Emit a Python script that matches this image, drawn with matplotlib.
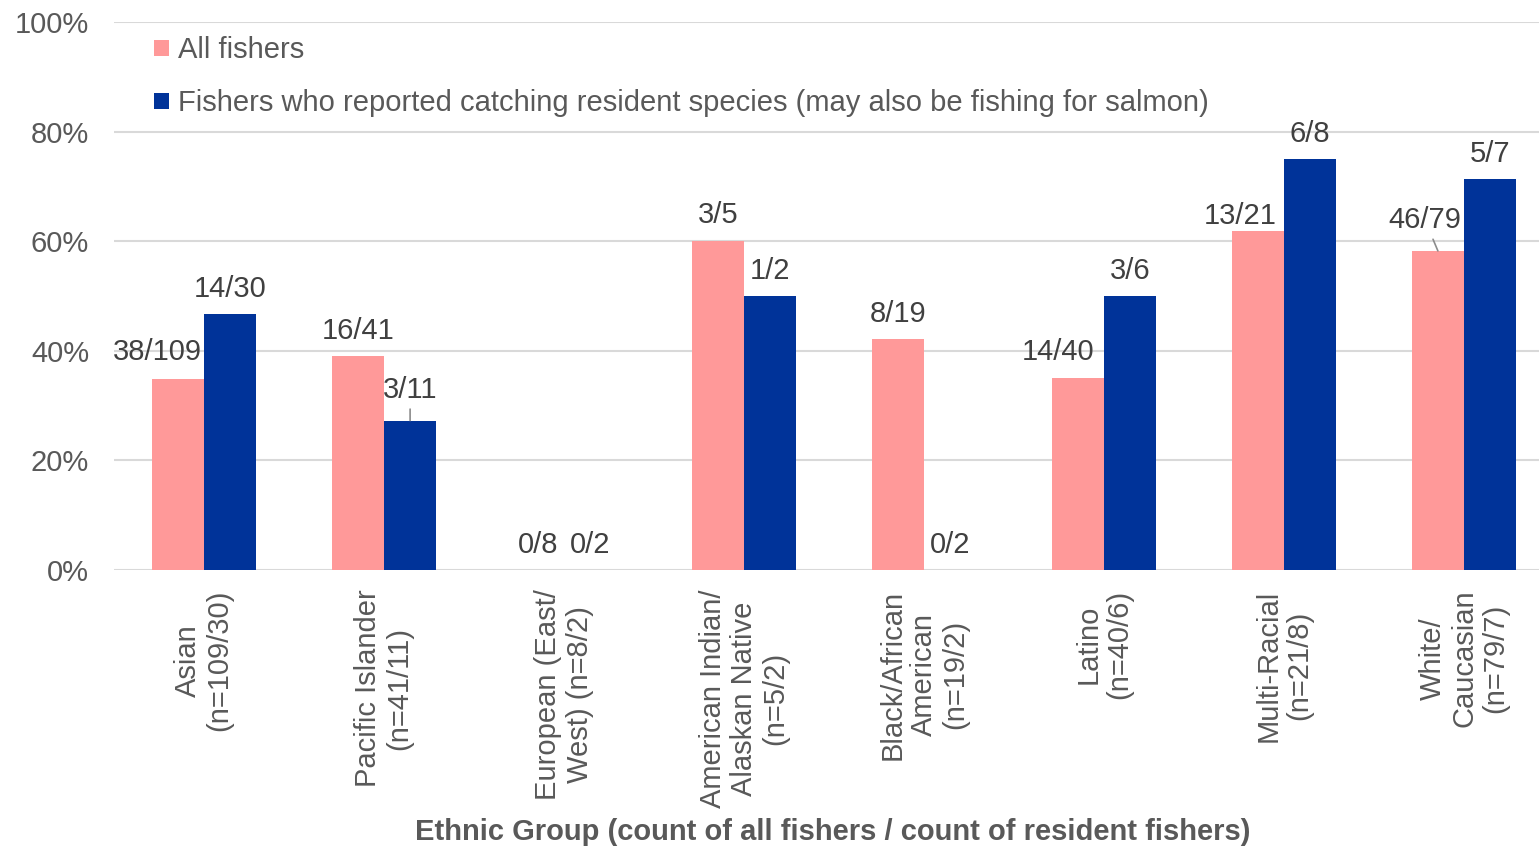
import matplotlib.pyplot as plt
import numpy as np

plt.rcParams['font.family'] = ['Liberation Sans', 'DejaVu Sans']

# groups and counts (caught / total)
groups = ["Asian\n(n=109/30)", "Pacific Islander\n(n=41/11)", "European (East/\nWest) (n=8/2)",
          "American Indian/\nAlaskan Native\n(n=5/2)", "Black/African\nAmerican\n(n=19/2)",
          "Latino\n(n=40/6)", "Multi-Racial\n(n=21/8)", "White/\nCaucasian\n(n=79/7)"]
all_num = [38, 16, 0, 3, 8, 14, 13, 46]
all_den = [109, 41, 8, 5, 19, 40, 21, 79]
res_num = [14, 3, 0, 1, 0, 3, 6, 5]
res_den = [30, 11, 2, 2, 2, 6, 8, 7]

all_pct = np.array(all_num) / np.array(all_den)
res_pct = np.array(res_num) / np.array(res_den)

# label offsets in pixels from bar top (dx, dy), some pushed aside
all_off = [(-21, 27), (0, 25), (0, 25), (0, 26), (0, 25), (-20, 26), (-18, 15), (-13, 31)]
res_off = [(0, 25), (0, 31), (0, 25), (0, 25), (0, 25), (0, 25), (0, 25), (0, 25)]
all_leader = [False, False, False, False, False, False, False, True]
res_leader = [False, True, False, False, False, False, False, False]

pink = '#FF9999'
navy = '#003399'
txt = '#595959'
lbl = '#404040'
fs = 21

fig = plt.figure(figsize=(15.39, 8.48), dpi=100)
ax = fig.add_axes([114 / 1539, 1 - 570 / 848, 1 - 114 / 1539, (570 - 22) / 848])

x = np.arange(len(groups))
w = 0.29
b1 = ax.bar(x - w / 2, all_pct, w, color=pink, label='All fishers', zorder=3)
b2 = ax.bar(x + w / 2, res_pct, w, color=navy,
            label='Fishers who reported catching resident species (may also be fishing for salmon)', zorder=3)

ax.set_ylim(0, 1)
ax.set_xlim(-0.5, 7.5 - 15 / 180)
ax.set_yticks(np.arange(0, 1.01, 0.2))
ax.set_yticklabels([f"{int(round(v * 100))}%" for v in np.arange(0, 1.01, 0.2)])
ax.yaxis.grid(True, color='#d9d9d9', lw=1.5, zorder=0)
ax.set_axisbelow(True)
for s in ax.spines.values():
    s.set_visible(False)
ax.tick_params(axis='y', length=0, pad=18, labelsize=fs, labelcolor=txt)
ax.set_xticks(x)
ax.set_xticklabels(groups, rotation=90, ha='center', va='top', multialignment='center',
                   linespacing=1.15)
ax.tick_params(axis='x', length=0, pad=14, labelsize=fs, labelcolor=txt)


def label_bars(bars, nums, dens, offs, leaders):
    for bar, n, d, off, lead in zip(bars, nums, dens, offs, leaders):
        xc = bar.get_x() + bar.get_width() / 2
        top = bar.get_height()
        props = None
        if lead:
            props = dict(arrowstyle='-', color='#8c8c8c', lw=1.2, shrinkA=2, shrinkB=0)
        ax.annotate(f"{n}/{d}", xy=(xc, top), xytext=off, textcoords='offset pixels',
                    ha='center', va='center', fontsize=fs, color=lbl,
                    arrowprops=props, zorder=4)


label_bars(b1, all_num, all_den, all_off, all_leader)
label_bars(b2, res_num, res_den, res_off, res_leader)

ax.legend(loc='upper left', bbox_to_anchor=(0.02, 0.995), frameon=False, fontsize=fs,
          handlelength=0.5, handleheight=0.5, handletextpad=0.3, labelspacing=0.85,
          labelcolor=txt, borderaxespad=0)

fig.text(833 / 1539, 1 - 832 / 848, "Ethnic Group (count of all fishers / count of resident fishers)",
         ha='center', va='center', fontsize=fs, fontweight='bold', color=txt)

fig.savefig('out.png', dpi=100)
